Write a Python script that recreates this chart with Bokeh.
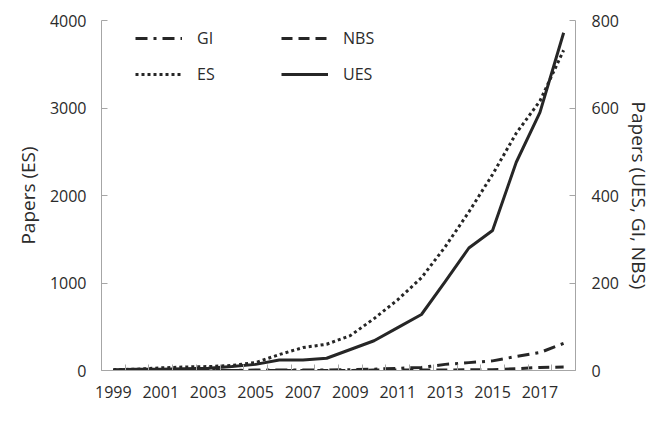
from bokeh.plotting import figure
from bokeh.models import Range1d, LinearAxis, FixedTicker, Legend, LegendItem
from bokeh.embed import file_html
from bokeh.resources import INLINE

years = list(range(1999, 2019))
es = [10, 15, 30, 40, 45, 57, 91, 182, 262, 300, 399, 593, 809, 1060, 1413, 1812, 2240, 2712, 3080, 3660]
ues = [2, 3, 3, 4, 5, 9, 14, 24, 24, 28, 48, 68, 98, 128, 203, 280, 320, 476, 590, 772]
gi = [0, 0, 0, 0, 0, 0, 1, 1, 1, 1, 2, 3, 5, 7, 14, 18, 22, 32, 41, 62]
nbs = [0, 0, 0, 0, 0, 0, 0, 0, 0, 0, 0, 1, 1, 1, 1, 2, 2, 4, 7, 8]

left_ticks = [0, 1000, 2000, 3000, 4000]
right_ticks = [0, 200, 400, 600, 800]
x_label_years = [1999, 2001, 2003, 2005, 2007, 2009, 2011, 2013, 2015, 2017]

FONT = "Open Sans"
TXT = "#2b2b2b"
AX = "#a6a6a6"
LC = "#262626"

p = figure(width=654, height=411, output_backend="svg", toolbar_location=None,
           x_range=Range1d(years[0] - 0.5, years[-1] + 0.5), y_range=Range1d(0, 4000),
           min_border_left=101, min_border_right=67, min_border_top=20, min_border_bottom=41)
p.extra_y_ranges = {"right": Range1d(0, 800)}
p.grid.visible = False
p.outline_line_color = None

# x axis
xa = p.xaxis[0]
xa.ticker = FixedTicker(ticks=x_label_years, minor_ticks=[y - 0.5 for y in years] + [years[-1] + 0.5])
xa.major_tick_line_color = None
xa.minor_tick_in = 6
xa.minor_tick_out = 0
xa.minor_tick_line_color = AX
xa.axis_line_color = AX
xa.major_label_text_font = FONT
xa.major_label_text_font_size = "16px"
xa.major_label_text_color = TXT
xa.major_label_standoff = 9

# left axis
ya = p.yaxis[0]
ya.ticker = FixedTicker(ticks=left_ticks)
ya.minor_tick_line_color = None
ya.major_tick_in = 6
ya.major_tick_out = 0
ya.major_tick_line_color = AX
ya.axis_line_color = AX
ya.major_label_text_font = FONT
ya.major_label_text_font_size = "16px"
ya.major_label_text_color = TXT
ya.major_label_standoff = 15
ya.axis_label = "Papers (ES)"
ya.axis_label_text_font = FONT
ya.axis_label_text_font_size = "19px"
ya.axis_label_text_font_style = "normal"
ya.axis_label_text_color = TXT
ya.axis_label_standoff = 6

ra = LinearAxis(y_range_name="right", ticker=FixedTicker(ticks=right_ticks))
ra.minor_tick_line_color = None
ra.major_tick_in = 6
ra.major_tick_out = 0
ra.major_tick_line_color = AX
ra.axis_line_color = AX
ra.major_label_text_font = FONT
ra.major_label_text_font_size = "16px"
ra.major_label_text_color = TXT
ra.major_label_standoff = 16
ra.axis_label = "Papers (UES, GI, NBS)"
ra.axis_label_text_font = FONT
ra.axis_label_text_font_size = "19px"
ra.axis_label_text_font_style = "normal"
ra.axis_label_text_color = TXT
ra.axis_label_standoff = 4
p.add_layout(ra, "right")

r_es = p.line(years, es, line_color=LC, line_width=3, line_dash="3 3")
r_nbs = p.line(years, nbs, y_range_name="right", line_color=LC, line_width=3, line_dash="11 6")
r_gi = p.line(years, gi, y_range_name="right", line_color=LC, line_width=3, line_dash="12 6 3 6")
r_ues = p.line(years, ues, y_range_name="right", line_color=LC, line_width=3)

legend = Legend(items=[LegendItem(label="GI", renderers=[r_gi]),
                       LegendItem(label="ES", renderers=[r_es]),
                       LegendItem(label="NBS", renderers=[r_nbs]),
                       LegendItem(label="UES", renderers=[r_ues])],
                location=(34, 285), ncols=2, border_line_color=None, background_fill_alpha=0,
                padding=0, margin=0, glyph_width=47, glyph_height=20, label_height=20,
                label_width=70, label_standoff=15, spacing=14,
                label_text_font=FONT, label_text_font_size="16px", label_text_color=TXT)
p.add_layout(legend)

open("out.html", "w").write(file_html(p, INLINE))
